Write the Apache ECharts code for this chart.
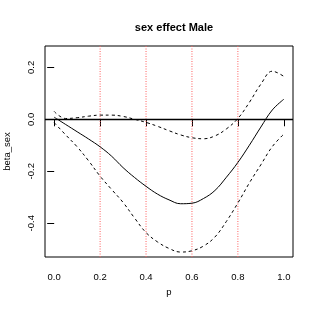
<!DOCTYPE html>
<html><head><meta charset="utf-8">
<script src="https://cdn.jsdelivr.net/npm/echarts@6/dist/echarts.min.js"></script>
<style>html,body{margin:0;padding:0;background:#fff}#c{width:316px;height:316px}</style>
</head><body><div id="c"></div>
<script>
var pValues = [0,0.05,0.1,0.15,0.2,0.25,0.3,0.35,0.4,0.45,0.5,0.55,0.6,0.65,0.7,0.75,0.8,0.85,0.9,0.95,1.0];
var betaEst = [0.008,-0.02,-0.048,-0.076,-0.106,-0.142,-0.186,-0.224,-0.258,-0.288,-0.31,-0.325,-0.323,-0.305,-0.274,-0.223,-0.166,-0.1,-0.03,0.036,0.077];
var betaUpper = [0.03,0.003,0.006,0.012,0.016,0.016,0.011,0.0,-0.012,-0.027,-0.044,-0.06,-0.071,-0.075,-0.064,-0.037,0.003,0.065,0.135,0.185,0.165];
var betaLower = [-0.013,-0.06,-0.106,-0.16,-0.219,-0.27,-0.32,-0.38,-0.436,-0.472,-0.497,-0.511,-0.506,-0.488,-0.453,-0.393,-0.322,-0.245,-0.175,-0.105,-0.057];
var xTicks = [0,0.2,0.4,0.6,0.8,1.0];
var yTicks = [-0.4,-0.2,0,0.2];
var vLines = [0.2,0.4,0.6,0.8];
var hLine = 0;
var titleText = 'sex effect Male';
var xName = 'p';
var yName = 'beta_sex';

var Y_MIN = -0.53, Y_MAX = 0.282, X_MIN = -0.04, X_MAX = 1.04;
function pairs(ys){ return pValues.map(function(x,i){ return [x, ys[i]]; }); }
var FONT = 'Liberation Sans, Arial, Helvetica, sans-serif';
var chart = echarts.init(document.getElementById('c'), null, {renderer:'canvas'});
var vSeries = vLines.map(function(v){
  return {type:'line', data:[[v,Y_MIN],[v,Y_MAX]], showSymbol:false, symbol:'none', z:1,
    lineStyle:{color:'#ff6060', width:1, type:[1,1.5]}};
});
chart.setOption({
  animation:false,
  backgroundColor:'#fff',
  title:{text:titleText, left:169, textAlign:'center', top:17,
    textStyle:{fontFamily:FONT, fontSize:11, fontWeight:'bold', color:'#000'}},
  grid:{left:45, right:23, top:46, bottom:59, show:true, borderColor:'#000', borderWidth:1, backgroundColor:'transparent',
    containLabel:false, outerBoundsMode:'none'},
  xAxis:{type:'value', min:X_MIN, max:X_MAX,
    name:xName, nameLocation:'middle', nameGap:28,
    nameTextStyle:{fontFamily:FONT, fontSize:9.5, color:'#000'},
    axisLine:{show:false},
    axisTick:{show:true, inside:false, length:7, customValues:xTicks, lineStyle:{color:'#000'}},
    axisLabel:{show:true, customValues:xTicks, margin:15, fontFamily:FONT, fontSize:9.5, color:'#000',
      formatter:function(v){return v.toFixed(1);}},
    splitLine:{show:false}},
  yAxis:{type:'value', min:Y_MIN, max:Y_MAX,
    name:yName, nameLocation:'middle', nameGap:33, nameRotate:90,
    nameTextStyle:{fontFamily:FONT, fontSize:9.5, color:'#000'},
    axisLine:{show:false},
    axisTick:{show:true, inside:false, length:7, customValues:yTicks, lineStyle:{color:'#000'}},
    axisLabel:{show:true, customValues:yTicks, rotate:90, margin:9, fontFamily:FONT, fontSize:9.5, color:'#000',
      formatter:function(v){return v.toFixed(1);}},
    splitLine:{show:false}},
  series: vSeries.concat([
    {type:'line', data:pairs(betaEst), smooth:0.4, showSymbol:false, symbol:'none', z:3,
      lineStyle:{color:'#000', width:1},
      markLine:{silent:true, symbol:['none','none'], label:{show:false},
        data:[{yAxis:hLine, lineStyle:{color:'#000', type:'solid', width:1.3}}]}},
    {type:'line', data:pairs(betaUpper), smooth:0.4, showSymbol:false, symbol:'none', z:3,
      lineStyle:{color:'#000', width:1, type:[3,3]}},
    {type:'line', data:pairs(betaLower), smooth:0.4, showSymbol:false, symbol:'none', z:3,
      lineStyle:{color:'#000', width:1, type:[3,3]}}
  ])
});
</script></body></html>
